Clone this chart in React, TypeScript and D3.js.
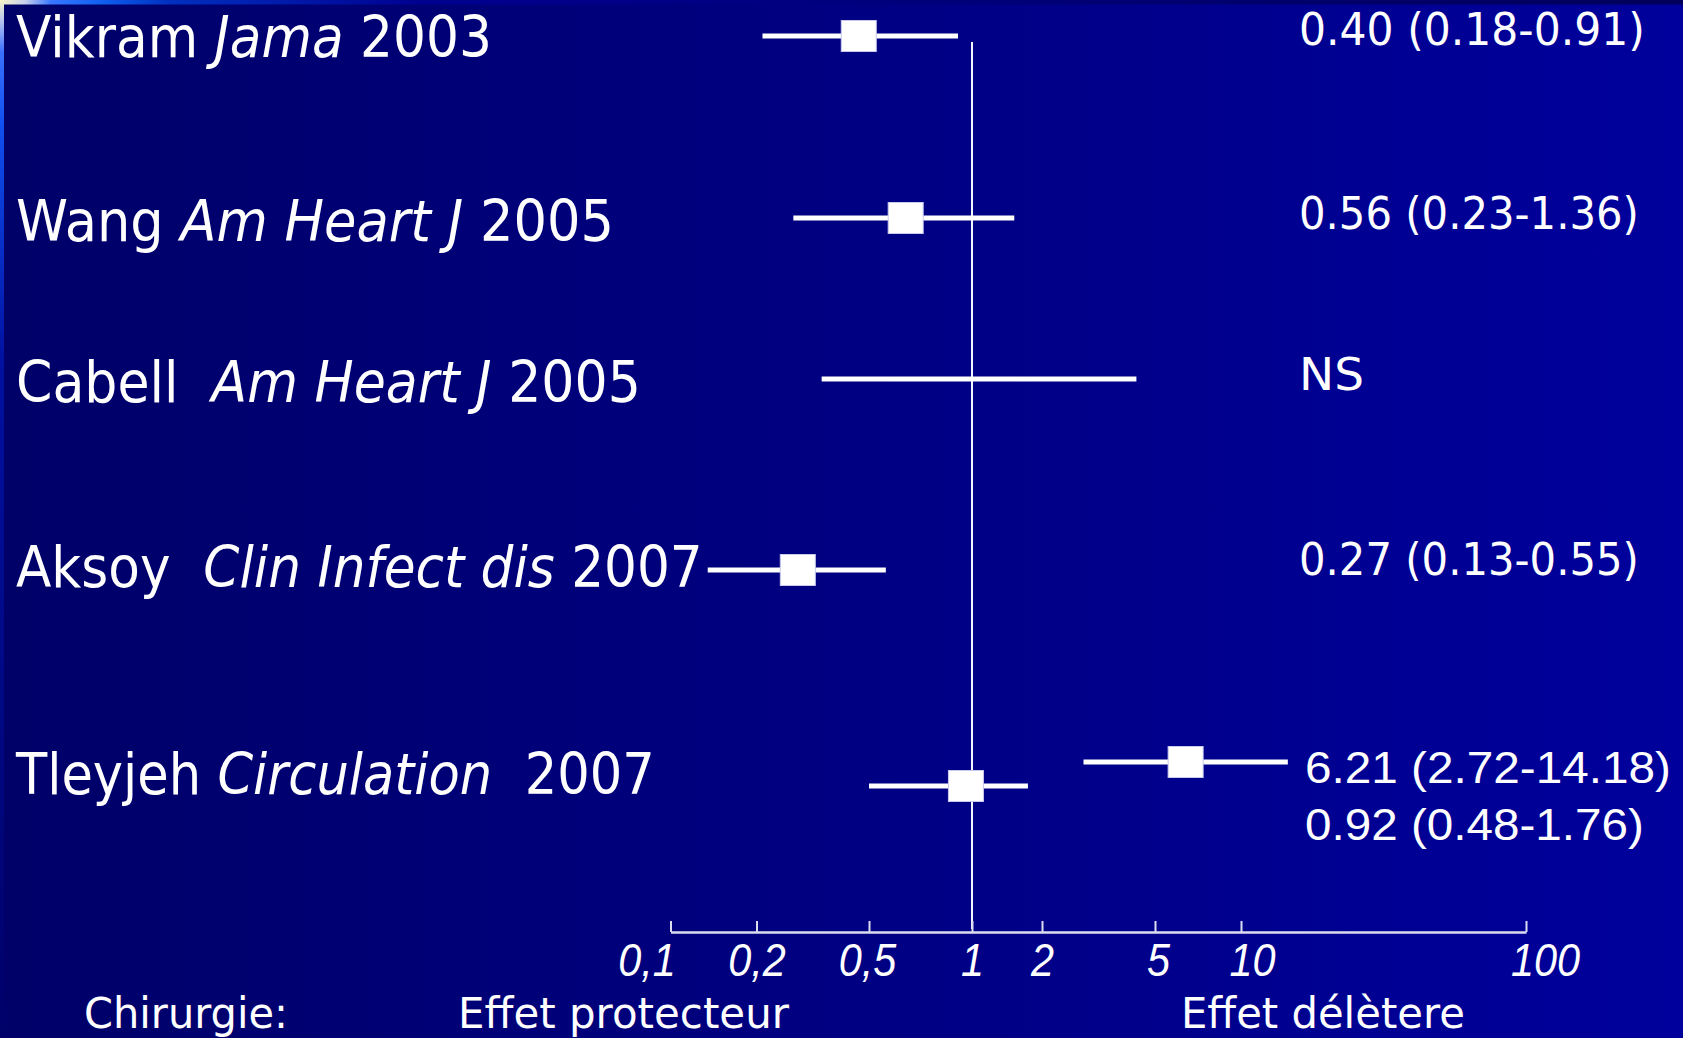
import * as d3 from "d3";
import React, { useRef, useEffect } from "react";

const width = 1683;
const height = 1038;

// one row per study
const studies = ["Vikram", "Wang", "Cabell", "Aksoy", "Tleyjeh"];
const journals = ["Jama", "Am Heart J", "Am Heart J", "Clin Infect dis", "Circulation"];
const years = ["2003", "2005", "2005", "2007", "2007"];
const nameGaps = [" ", " ", "  ", "  ", " "];
const yearGaps = [" ", " ", " ", " ", "  "];

// one line per estimate (odds ratio + 95% CI)
const estStudy = ["Vikram", "Wang", "Cabell", "Aksoy", "Tleyjeh", "Tleyjeh"];
const estOR = [0.46, 0.64, null, 0.28, 6.4, 0.96];
const estLow = [0.21, 0.27, 0.34, 0.135, 2.8, 0.5];
const estHigh = [0.91, 1.52, 4.3, 0.56, 14.6, 1.74];
const estText = [
  "0.40 (0.18-0.91)",
  "0.56 (0.23-1.36)",
  "NS",
  "0.27 (0.13-0.55)",
  "6.21 (2.72-14.18)",
  "0.92 (0.48-1.76)",
];

const tickValues = [0.1, 0.2, 0.5, 1, 2, 5, 10, 100];
const bottomLabels = ["Chirurgie:", "Effet protecteur", "Effet délètere"];

// layout (hand drawn axis: ticks are not evenly spaced on a log scale)
const tickPx = [670.5, 756.5, 869, 972, 1042, 1155, 1241, 1526];
const tickLabelShift = [-24, 0, -2, 0, 0, 3, 11, 19];
const lineYs = [36, 218, 379, 570, 762, 786];
const axisY = 932;
const leftLabelY = [57, 241, 402, 587, 794];
const leftLabelW = [476, 598, 625, 687, 639];
const rightLabelY = [45, 229, 390, 575, 783, 840];
const rightLabelW = [346, 340, 65, 340, 366, 339];
const bottomX = [84, 458, 1181];
const bottomW = [204, 331, 284];

// squeeze a text horizontally so it spans the wanted width
const fitWidth = (node: SVGTextElement, x: number, y: number, w: number) => {
  const natural = node.getComputedTextLength() || w;
  d3.select(node)
    .attr("x", 0)
    .attr("y", 0)
    .attr("transform", `translate(${x}, ${y}) scale(${w / natural}, 1)`);
};

const ForestPlot = () => {
  const ref = useRef<SVGSVGElement>(null);

  useEffect(() => {
    const svg = d3.select(ref.current);
    svg.selectAll("*").remove();

    const x = d3.scaleLog().domain(tickValues).range(tickPx);
    const y = d3
      .scaleOrdinal<number, number>()
      .domain(d3.range(estStudy.length))
      .range(lineYs);

    // background
    const defs = svg.append("defs");
    const bg = defs.append("linearGradient").attr("id", "bg");
    bg.append("stop").attr("offset", "0%").attr("stop-color", "#000068");
    bg.append("stop").attr("offset", "100%").attr("stop-color", "#00009c");

    const top = defs.append("linearGradient").attr("id", "topStrip");
    [
      ["0%", "#f8f4c8"],
      ["1.5%", "#c8d0ec"],
      ["3%", "#3a78ff"],
      ["6%", "#1060f0"],
      ["10%", "#0030c0"],
      ["25%", "#000090"],
      ["100%", "#00005a"],
    ].forEach(([o, c]) => top.append("stop").attr("offset", o).attr("stop-color", c));

    const left = defs
      .append("linearGradient")
      .attr("id", "leftStrip")
      .attr("x1", 0)
      .attr("y1", 0)
      .attr("x2", 0)
      .attr("y2", 1);
    [
      ["0%", "#f8f4c8"],
      ["2%", "#b8c4ee"],
      ["5%", "#3a70ff"],
      ["12%", "#1050f0"],
      ["35%", "#0010a0"],
      ["100%", "#000068"],
    ].forEach(([o, c]) => left.append("stop").attr("offset", o).attr("stop-color", c));

    svg.append("rect").attr("width", width).attr("height", height).attr("fill", "url(#bg)");
    svg.append("rect").attr("width", width).attr("height", 4.5).attr("fill", "url(#topStrip)");
    svg.append("rect").attr("width", 4).attr("height", height).attr("fill", "url(#leftStrip)");

    // line of no effect
    svg
      .append("line")
      .attr("x1", x(1))
      .attr("x2", x(1))
      .attr("y1", 42)
      .attr("y2", axisY - 3)
      .attr("stroke", "#f4f4ff")
      .attr("stroke-width", 2);

    // x axis
    const axis = svg
      .append("g")
      .attr("transform", `translate(0, ${axisY})`)
      .call(
        d3
          .axisBottom(x)
          .tickValues(tickValues)
          .tickSizeInner(-11)
          .tickSizeOuter(0)
          .tickPadding(11)
          .tickFormat((d) => String(d).replace(".", ","))
      );
    axis.select(".domain").attr("stroke", "#dcdcf0").attr("stroke-width", 2.5);
    axis.selectAll(".tick line").attr("stroke", "#dcdcf0").attr("stroke-width", 2);
    axis
      .selectAll(".tick text")
      .attr("fill", "#ffffff")
      .attr("font-family", "'Liberation Sans', Arial, sans-serif")
      .attr("font-style", "italic")
      .attr("font-size", 46)
      .attr("transform", (_, i) => `translate(${tickLabelShift[i]}, 0) scale(0.9, 1)`);

    // confidence intervals
    const idx = d3.range(estStudy.length);
    svg
      .append("g")
      .selectAll("line")
      .data(idx)
      .join("line")
      .attr("x1", (i) => x(estLow[i]))
      .attr("x2", (i) => x(estHigh[i]))
      .attr("y1", (i) => y(i))
      .attr("y2", (i) => y(i))
      .attr("stroke", "#ffffff")
      .attr("stroke-width", 5);

    // point estimates
    const sqW = 35;
    const sqH = 31;
    svg
      .append("g")
      .selectAll("rect")
      .data(idx.filter((i) => estOR[i] != null))
      .join("rect")
      .attr("x", (i) => x(estOR[i] as number) - sqW / 2)
      .attr("y", (i) => y(i) - sqH / 2)
      .attr("width", sqW)
      .attr("height", sqH)
      .attr("fill", "#ffffff")
      .attr("stroke", "#c8c8ee")
      .attr("stroke-width", 1);

    // study labels
    const labels = svg
      .append("g")
      .selectAll("text")
      .data(d3.range(studies.length))
      .join("text")
      .attr("fill", "#ffffff")
      .attr("font-family", "'DejaVu Sans', Tahoma, sans-serif")
      .attr("font-size", 57)
      .style("white-space", "pre");
    labels.append("tspan").text((i) => studies[i] + nameGaps[i]);
    labels
      .append("tspan")
      .attr("font-style", "italic")
      .text((i) => journals[i]);
    labels.append("tspan").text((i) => yearGaps[i] + years[i]);
    labels.each(function (i) {
      fitWidth(this as SVGTextElement, 16, leftLabelY[i], leftLabelW[i]);
    });

    // estimate labels
    svg
      .append("g")
      .selectAll("text")
      .data(idx)
      .join("text")
      .attr("fill", "#ffffff")
      .attr("font-family", (i) =>
        estStudy[i] === "Tleyjeh"
          ? "'Liberation Sans', Arial, sans-serif"
          : "'DejaVu Sans', Tahoma, sans-serif"
      )
      .attr("font-size", (i) => (estStudy[i] === "Tleyjeh" ? 44 : 45))
      .text((i) => estText[i])
      .each(function (i) {
        const x0 = estStudy[i] === "Tleyjeh" ? 1305 : 1299;
        fitWidth(this as SVGTextElement, x0, rightLabelY[i], rightLabelW[i]);
      });

    // bottom captions
    svg
      .append("g")
      .selectAll("text")
      .data(bottomLabels)
      .join("text")
      .attr("fill", "#ffffff")
      .attr("font-family", "'DejaVu Sans', Tahoma, sans-serif")
      .attr("font-size", 42)
      .text((d) => d)
      .each(function (_, i) {
        fitWidth(this as SVGTextElement, bottomX[i], 1028, bottomW[i]);
      });
  }, []);

  return (
    <svg
      ref={ref}
      width={width}
      height={height}
      style={{ position: "absolute", left: 0, top: 0, display: "block" }}
    />
  );
};

export default function App() {
  return <ForestPlot />;
}
